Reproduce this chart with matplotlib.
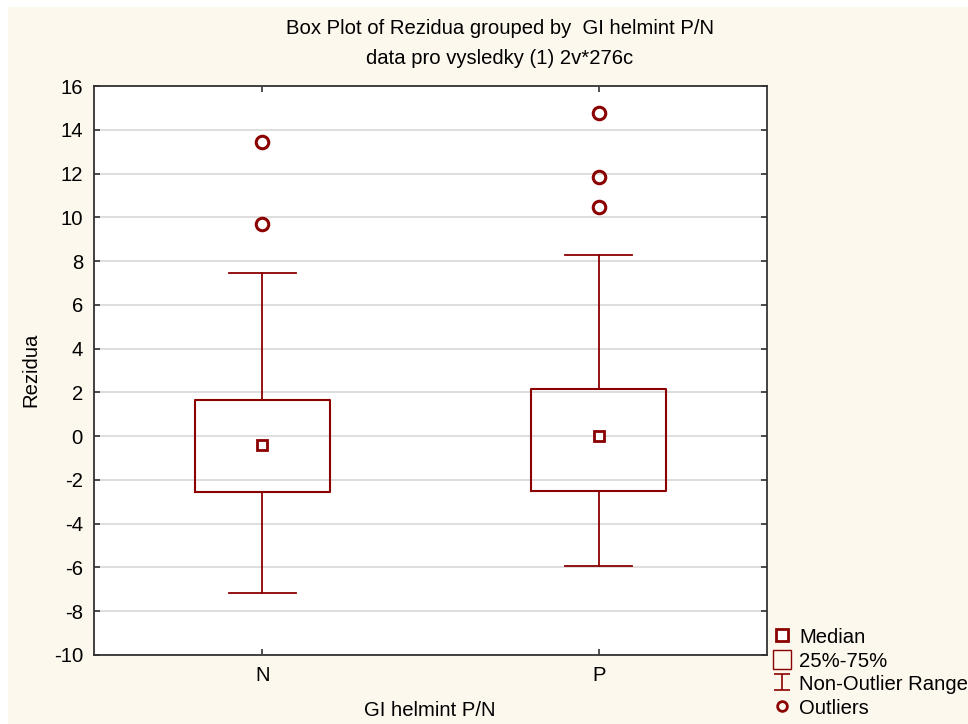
import matplotlib
matplotlib.use("Agg")
import matplotlib.pyplot as plt
from matplotlib.lines import Line2D
from matplotlib.patches import Patch, Rectangle
from matplotlib.path import Path

# values
groups = ["N", "P"]
q1 = [-2.55, -2.5]
q3 = [1.65, 2.15]
medians = [-0.4, 0.0]
whislo = [-7.15, -5.95]
whishi = [7.45, 8.3]
outliers = [[9.7, 13.45], [10.45, 11.85, 14.75]]
yticks = list(range(-10, 17, 2))

red = "#8b0000"
cream = "#fdf8ee"

plt.rcParams["font.family"] = ["Liberation Sans", "DejaVu Sans"]
plt.rcParams["font.size"] = 14.6
plt.rcParams["axes.unicode_minus"] = False

fig = plt.figure(figsize=(9.68, 7.24), dpi=100)
fig.patch.set_facecolor("white")
fig.patches.append(Rectangle((8 / 968, 0), 1, 717 / 724, transform=fig.transFigure,
                             facecolor=cream, edgecolor="none", zorder=-10))

ax = fig.add_axes([94 / 968, 69 / 724, 673 / 968, 569 / 724])
ax.set_facecolor("white")

pos = list(range(1, len(groups) + 1))
stats = []
for i in range(len(groups)):
    stats.append({"q1": q1[i], "q3": q3[i], "med": medians[i],
                  "whislo": whislo[i], "whishi": whishi[i], "fliers": outliers[i]})

ax.bxp(stats, positions=pos, widths=0.4, showcaps=True,
       boxprops=dict(color=red, linewidth=1.5),
       whiskerprops=dict(color=red, linewidth=1.3),
       capprops=dict(color=red, linewidth=1.3),
       medianprops=dict(linestyle="none"),
       flierprops=dict(marker="o", markerfacecolor="none", markeredgecolor=red,
                       markersize=9, markeredgewidth=2.2),
       capwidths=0.2)
ax.plot(pos, medians, "s", markerfacecolor="white", markeredgecolor=red,
        markersize=7, markeredgewidth=2, linestyle="none", zorder=5)

ax.set_xlim(0.5, len(groups) + 0.5)
ax.set_ylim(-10, 16)
ax.set_yticks(yticks)
ax.set_xticks(pos)
ax.set_xticklabels(groups)
ax.yaxis.grid(True, color="#d8d8d8", linewidth=1.2)
ax.set_axisbelow(True)
ax.tick_params(direction="in", length=4, width=1.2, color="#333333",
               top=True, right=True, pad=8)
for s in ax.spines.values():
    s.set_color("#333333")
    s.set_linewidth(1.3)

fig.text(31 / 968, 1 - 370 / 724, "Rezidua", rotation=90, ha="center", va="center")
fig.text(430 / 968, 1 - 710 / 724, "GI helmint P/N", ha="center", va="center")
fig.text(500 / 968, 1 - 28 / 724, "Box Plot of Rezidua grouped by  GI helmint P/N",
         ha="center", va="center")
fig.text(500 / 968, 1 - 58 / 724, "data pro vysledky (1) 2v*276c",
         ha="center", va="center")

ibeam = Path([(-1, 1), (1, 1), (0, 1), (0, -1), (-1, -1), (1, -1)],
             [Path.MOVETO, Path.LINETO, Path.MOVETO, Path.LINETO, Path.MOVETO, Path.LINETO])
handles = [
    Line2D([], [], marker="s", linestyle="none", markerfacecolor="white",
           markeredgecolor=red, markersize=8, markeredgewidth=2),
    Patch(facecolor="none", edgecolor=red, linewidth=1),
    Line2D([], [], marker=ibeam, linestyle="none", color=red, markersize=11,
           markeredgewidth=1.2, fillstyle="none"),
    Line2D([], [], marker="o", linestyle="none", markerfacecolor="none",
           markeredgecolor=red, markersize=7, markeredgewidth=2),
]
labels = ["Median", "25%-75%", "Non-Outlier Range", "Outliers"]
fig.legend(handles, labels, loc="lower left", bbox_to_anchor=(767 / 968, 0.0),
           frameon=False, handlelength=0.9, handleheight=1.1, handletextpad=0.4,
           labelspacing=0.15, borderaxespad=0.2, borderpad=0.1)

fig.savefig("out.png", dpi=100, facecolor=fig.get_facecolor())
